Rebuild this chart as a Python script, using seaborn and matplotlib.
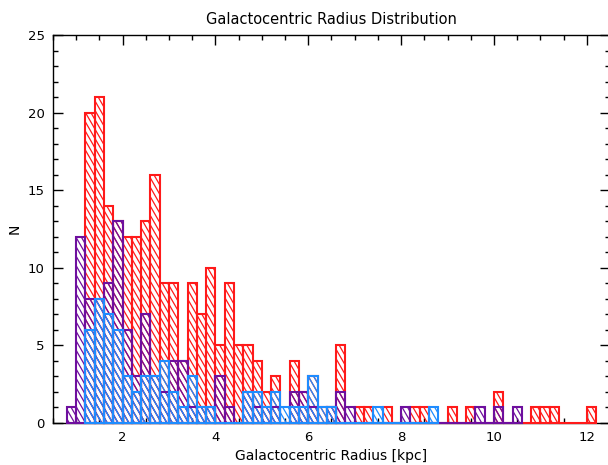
import numpy as np
import pandas as pd
import seaborn as sns
import matplotlib.pyplot as plt
from matplotlib.collections import LineCollection

## Data: counts per 0.2 kpc bin
bin_width = 0.2

red_start = 1.2
red_counts = [20, 21, 14, 13, 12, 12, 13, 16, 9, 9,
              4, 9, 7, 10, 5, 9, 5, 5, 4, 2,
              3, 0, 4, 2, 3, 1, 1, 5, 0, 1,
              1, 0, 1, 0, 0, 1, 1, 0, 0, 1,
              0, 1, 0, 0, 2, 0, 0, 0, 1, 1,
              1, 0, 0, 0, 1]

purple_start = 0.8
purple_counts = [1, 12, 8, 8, 9, 13, 6, 3, 7, 3,
                 2, 4, 4, 1, 1, 1, 3, 1, 0, 2,
                 1, 1, 1, 0, 2, 2, 1, 0, 1, 2,
                 1, 0, 0, 0, 0, 0, 1, 0, 0, 0,
                 0, 0, 0, 0, 1, 0, 1, 0, 1]

blue_start = 1.2
blue_counts = [6, 8, 7, 6, 3, 2, 3, 3, 4, 2,
               1, 3, 1, 1, 0, 0, 0, 2, 2, 1,
               2, 1, 1, 1, 3, 1, 1, 0, 0, 0,
               0, 1, 0, 0, 0, 0, 0, 1]

series = [(red_start, red_counts, "#ff1a1a"),
          (purple_start, purple_counts, "#6e0f9e"),
          (blue_start, blue_counts, "#1e8cff")]

sns.set_style("ticks")
plt.rcParams['font.family'] = ['DejaVu Sans']
plt.rcParams['text.color'] = 'black'
plt.rcParams['axes.labelcolor'] = 'black'
plt.rcParams['xtick.color'] = 'black'
plt.rcParams['ytick.color'] = 'black'

fig = plt.figure(figsize=(6.08, 4.65), dpi=100)
W, H = 557, 388
ax = fig.add_axes([53 / 608, 42 / 465, W / 608, H / 465])
ax.set_xlim(0.5, 12.5)
ax.set_ylim(0, 25)

# steep hatch: lines sin(t)*x + cos(t)*y = c in axes pixels
theta = np.deg2rad(60)
spacing = 4.7
st, ct = np.sin(theta), np.cos(theta)


def hatch_segments(bars):
    to_ax = ax.transData + ax.transAxes.inverted()
    segs = []
    for p in bars:
        if p.get_height() <= 0:
            continue
        (xa, ya), (xb, yb) = to_ax.transform(
            [(p.get_x(), p.get_y()), (p.get_x() + p.get_width(), p.get_y() + p.get_height())])
        xa, xb, ya, yb = xa * W, xb * W, ya * H, yb * H
        cmin = st * xa + ct * ya
        cmax = st * xb + ct * yb
        k0 = np.ceil(cmin / spacing)
        for c in np.arange(k0 * spacing, cmax, spacing):
            lo = max(ya, (c - st * xb) / ct)
            hi = min(yb, (c - st * xa) / ct)
            if hi <= lo:
                continue
            segs.append([((c - ct * lo) / st / W, lo / H),
                         ((c - ct * hi) / st / W, hi / H)])
    return segs


for start, counts, color in series:
    edges = start + bin_width * np.arange(len(counts) + 1)
    df = pd.DataFrame({"r": edges[:-1] + bin_width / 2, "n": counts})
    n0 = len(ax.patches)
    sns.histplot(data=df, x="r", weights="n", bins=list(edges), element="bars",
                 fill=True, color=color, ax=ax)
    bars = ax.patches[n0:]
    for p in bars:
        p.set_facecolor("none")
        p.set_edgecolor(color)
        p.set_alpha(1)
        p.set_linewidth(1.5)
        p.set_zorder(3)
        p.set_clip_on(False)
    ax.set_xlim(0.5, 12.5)
    ax.set_ylim(0, 25)
    lc = LineCollection(hatch_segments(bars), colors=color, linewidths=0.9,
                        transform=ax.transAxes, zorder=2.9)
    ax.add_collection(lc, autolim=False)

ax.set_xlim(0.5, 12.5)
ax.set_ylim(0, 25)
ax.set_xticks(np.arange(2, 13, 2))
ax.set_xticks(np.arange(0.5, 12.6, 0.5), minor=True)
ax.set_yticks(np.arange(0, 26, 5))
ax.set_yticks(np.arange(0, 26, 1), minor=True)
ax.tick_params(which="both", direction="in", top=True, right=True,
               labelsize=9.5, width=1, color="black")
ax.tick_params(which="major", length=7, pad=6)
ax.tick_params(which="minor", length=3.5)
for s in ax.spines.values():
    s.set_linewidth(1)
    s.set_color("black")

ax.set_title("Galactocentric Radius Distribution", fontsize=10.5, pad=8)
ax.set_xlabel("Galactocentric Radius [kpc]", fontsize=10, labelpad=3)
ax.set_ylabel("N", fontsize=10, labelpad=4)

fig.savefig("out.png", dpi=100)
